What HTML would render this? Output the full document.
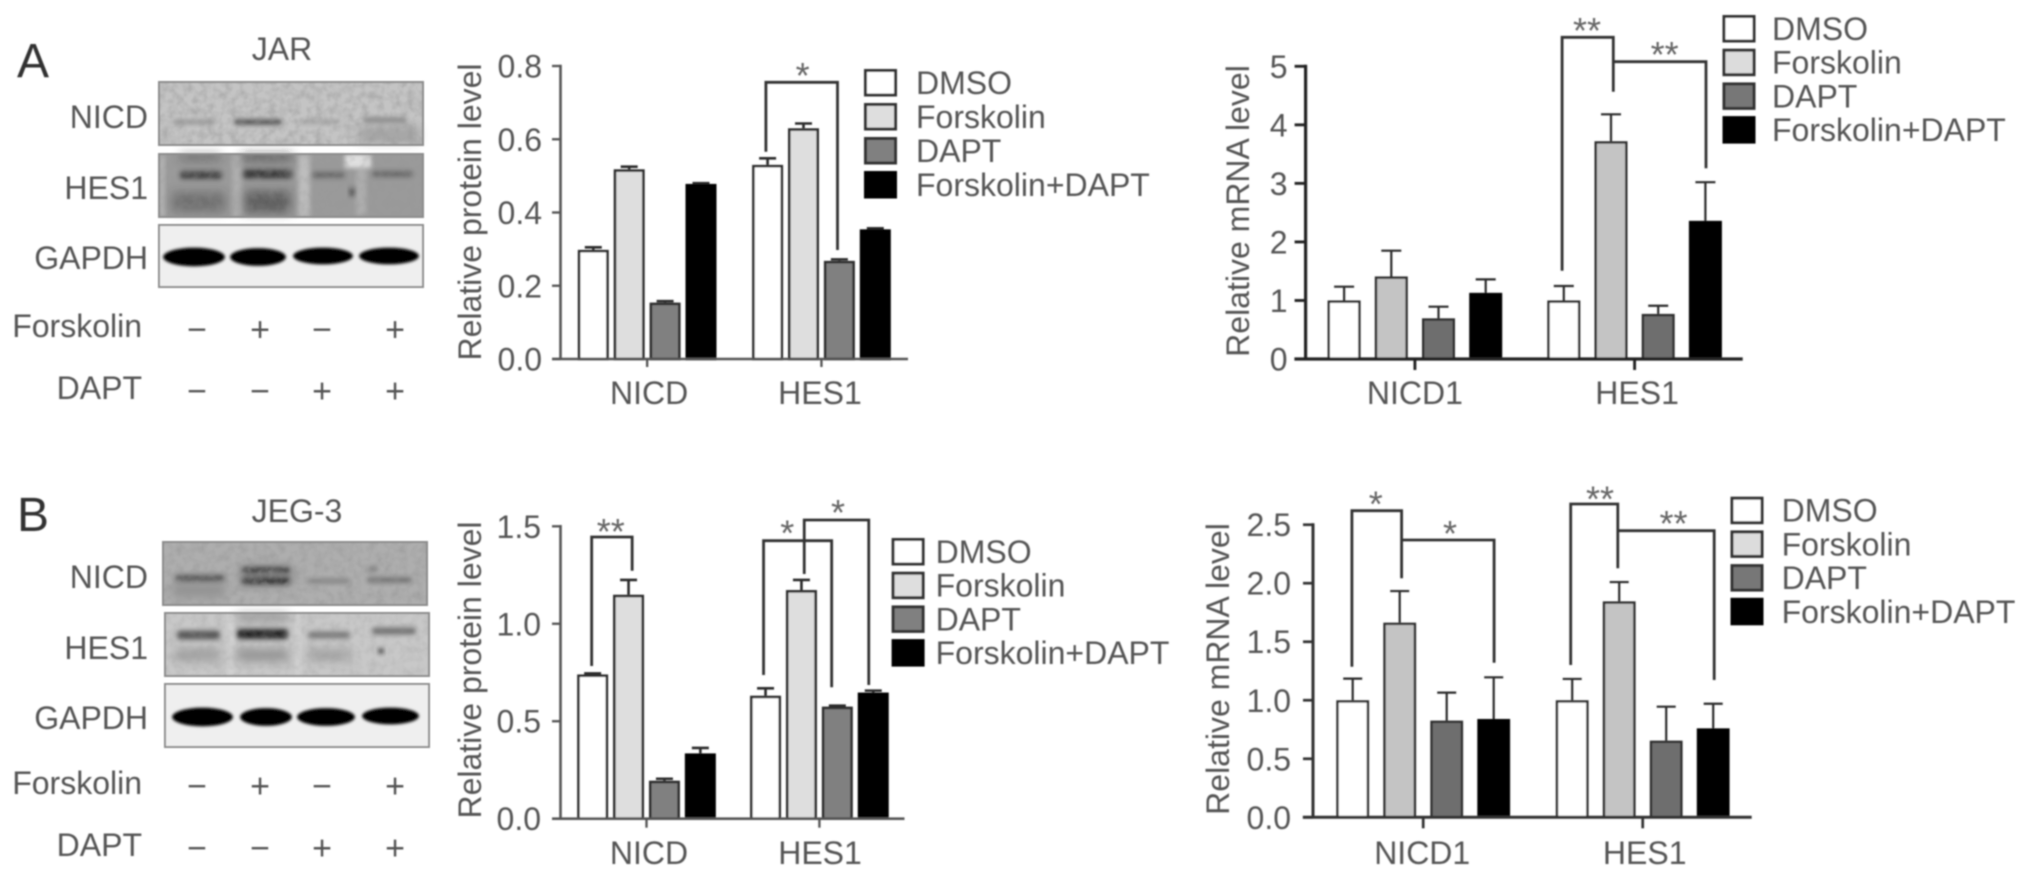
<!DOCTYPE html>
<html lang="en">
<head>
<meta charset="utf-8">
<title>NICD and HES1 protein and mRNA levels in JAR and JEG-3 cells</title>
<style>
html,body{margin:0;padding:0;background:#fff;}
body{width:2032px;height:877px;overflow:hidden;}
svg{display:block;}
text{font-family:"Liberation Sans",sans-serif;fill:#555;}
</style>
</head>
<body>
<svg id="figure" xmlns="http://www.w3.org/2000/svg" width="2032" height="877" viewBox="0 0 2032 877">
  <defs>
    <filter id="soft" x="0" y="0" width="100%" height="100%"><feGaussianBlur stdDeviation="0.8"/></filter>
    <filter id="band-blur" x="-30%" y="-100%" width="160%" height="300%"><feGaussianBlur stdDeviation="2.4"/></filter>
    <filter id="solid-blur" x="-10%" y="-50%" width="120%" height="200%"><feGaussianBlur stdDeviation="1.2"/></filter>
    <filter id="smear-blur" x="-40%" y="-100%" width="180%" height="300%"><feGaussianBlur stdDeviation="5"/></filter>
    <filter id="noise" x="0" y="0" width="100%" height="100%">
      <feTurbulence type="fractalNoise" baseFrequency="0.13" numOctaves="3" seed="4"/>
      <feColorMatrix type="matrix" values="0 0 0 0 0.3  0 0 0 0 0.3  0 0 0 0 0.3  1.3 0 0 0 -0.48"/>
    </filter>
  </defs>
  <rect x="0" y="0" width="2032" height="877" fill="#fff"/>
  <g id="root" filter="url(#soft)"></g>
</svg>
<script>
// ---- chart data ----
const seriesNames = ['DMSO', 'Forskolin', 'DAPT', 'Forskolin+DAPT'];

const jarProteinCategories = ['NICD', 'HES1'];
const jarProteinMeans = [[0.298, 0.518, 0.154, 0.478], [0.53, 0.63, 0.268, 0.354]];
const jarProteinUpper = [[0.305, 0.525, 0.158, 0.48], [0.548, 0.643, 0.272, 0.357]];
const jarProteinTicks = ['0.0', '0.2', '0.4', '0.6', '0.8'];

const jarMrnaCategories = ['NICD1', 'HES1'];
const jarMrnaMeans = [[1.0, 1.41, 0.695, 1.13], [1.0, 3.72, 0.77, 2.36]];
const jarMrnaUpper = [[1.235, 1.85, 0.894, 1.36], [1.247, 4.18, 0.91, 3.02]];
const jarMrnaTicks = ['0', '1', '2', '3', '4', '5'];

const jegProteinCategories = ['NICD', 'HES1'];
const jegProteinMeans = [[0.74, 1.149, 0.195, 0.335], [0.631, 1.173, 0.575, 0.647]];
const jegProteinUpper = [[0.745, 1.225, 0.205, 0.363], [0.669, 1.225, 0.58, 0.657]];
const jegProteinTicks = ['0.0', '0.5', '1.0', '1.5'];

const jegMrnaCategories = ['NICD1', 'HES1'];
const jegMrnaMeans = [[1.0, 1.663, 0.826, 0.84], [1.0, 1.845, 0.655, 0.76]];
const jegMrnaUpper = [[1.185, 1.933, 1.065, 1.196], [1.182, 2.01, 0.945, 0.97]];
const jegMrnaTicks = ['0.0', '0.5', '1.0', '1.5', '2.0', '2.5'];

const forskolinSigns = ['−', '+', '−', '+'];
const daptSigns = ['−', '−', '+', '+'];

// ---- layout and styling, kept apart from the data ----
const proteinFills = ['#ffffff', '#dedede', '#808080', '#000000'];
const mrnaFills = ['#ffffff', '#c4c4c4', '#6e6e6e', '#000000'];
const mrnaLegendFills = ['#ffffff', '#dcdcdc', '#777777', '#000000'];

const panels = [
  {
    id: 'jar-protein', title: 'Relative protein level',
    categories: jarProteinCategories, means: jarProteinMeans, upper: jarProteinUpper, ticks: jarProteinTicks,
    axisX: 560.5, top: 66, base: 359, max: 0.8, xStart: 552, xEnd: 908, tickOut: 8.5, xTick: 8, axisColor: '#555', axisW: 2.6,
    group0: 647.15, groupStep: 174.3, barStep: 35.9, barW: 31, barSW: 2.6, capHalf: 8.5, errW: 2.6,
    fills: proteinFills, legendFills: proteinFills,
    labelRight: 542, titleX: 481, titleY: 212, xLabelY: 404, xLabelDx: [2, -1.5],
    legendX: 864, legendY: 69, legendLabelX: 916, legendStep: 34,
    brackets: [
      { group: 1, from: 0, to: 2, dxFrom: -1.7, dxTo: -1.9, top: 82.3, fromEnd: 151.7, toEnd: 250, stars: '*', starX: 802.6, starY: 68 }
    ]
  },
  {
    id: 'jar-mrna', title: 'Relative mRNA level',
    categories: jarMrnaCategories, means: jarMrnaMeans, upper: jarMrnaUpper, ticks: jarMrnaTicks,
    axisX: 1305.6, top: 66.3, base: 359, max: 5, xStart: 1294.4, xEnd: 1742.7, tickOut: 11, xTick: 11, axisColor: '#222', axisW: 3.2,
    group0: 1414.9, groupStep: 219.7, barStep: 47.2, barW: 33, barSW: 2.4, capHalf: 10, errW: 2.2,
    fills: mrnaFills, legendFills: mrnaLegendFills,
    labelRight: 1287.5, titleX: 1249, titleY: 211, xLabelY: 404, xLabelDx: [0, 2.5],
    legendX: 1722.5, legendY: 15, legendLabelX: 1772, legendStep: 33.7,
    brackets: [
      { group: 1, from: 0, to: 1, dxFrom: -1.7, dxTo: 2.3, top: 37.3, fromEnd: 270.7, toEnd: 91.7, stars: '**', starX: 1587, starY: 23 },
      { group: 1, from: 1, to: 3, dxFrom: 2.3, dxTo: 0.6, top: 61.7, fromEnd: 61.7, toEnd: 168.3, stars: '**', starX: 1664.7, starY: 47 }
    ]
  },
  {
    id: 'jeg-protein', title: 'Relative protein level',
    categories: jegProteinCategories, means: jegProteinMeans, upper: jegProteinUpper, ticks: jegProteinTicks,
    axisX: 560.5, top: 526.3, base: 818.7, max: 1.5, xStart: 552, xEnd: 904.5, tickOut: 8.5, xTick: 9, axisColor: '#555', axisW: 2.6,
    group0: 646.5, groupStep: 172.9, barStep: 35.9, barW: 31, barSW: 2.6, capHalf: 8.5, errW: 2.6,
    fills: proteinFills, legendFills: proteinFills,
    labelRight: 541, titleX: 481, titleY: 670, xLabelY: 864, xLabelDx: [2.5, 0.6],
    legendX: 891.6, legendY: 538, legendLabelX: 935.6, legendStep: 33.7,
    brackets: [
      { group: 0, from: 0, to: 1, dxFrom: -1, dxTo: 3.6, top: 537, fromEnd: 666, toEnd: 570.7, stars: '**', starX: 610.8, starY: 524 },
      { group: 1, from: 0, to: 2, dxFrom: -2, dxTo: -5.7, top: 540.7, fromEnd: 675, toEnd: 687.3, stars: '*', starX: 787.3, starY: 525.7 },
      { group: 1, from: 1, to: 3, dxFrom: 2.8, dxTo: -4.5, top: 520, fromEnd: 574, toEnd: 685, stars: '*', starX: 838, starY: 505 }
    ]
  },
  {
    id: 'jeg-mrna', title: 'Relative mRNA level',
    categories: jegMrnaCategories, means: jegMrnaMeans, upper: jegMrnaUpper, ticks: jegMrnaTicks,
    axisX: 1313, top: 524.7, base: 817.3, max: 2.5, xStart: 1302.8, xEnd: 1751.7, tickOut: 10, xTick: 11, axisColor: '#333', axisW: 3,
    group0: 1423.2, groupStep: 219.5, barStep: 47, barW: 32.8, barSW: 2.4, capHalf: 9.5, errW: 2.2,
    fills: mrnaFills, legendFills: mrnaLegendFills,
    labelRight: 1291, titleX: 1229, titleY: 669, xLabelY: 864, xLabelDx: [-1, 2],
    legendX: 1730.5, legendY: 496.7, legendLabelX: 1781.6, legendStep: 33.7,
    brackets: [
      { group: 0, from: 0, to: 1, dxFrom: -0.8, dxTo: 1.9, top: 510.7, fromEnd: 666.7, toEnd: 578.3, stars: '*', starX: 1375.7, starY: 496.7 },
      { group: 0, from: 1, to: 3, dxFrom: 1.9, dxTo: 0.4, top: 540, fromEnd: 540, toEnd: 662.7, stars: '*', starX: 1450, starY: 526 },
      { group: 1, from: 0, to: 1, dxFrom: -1.5, dxTo: -1.4, top: 504, fromEnd: 665, toEnd: 568.3, stars: '**', starX: 1600, starY: 491.7 },
      { group: 1, from: 1, to: 3, dxFrom: -1.4, dxTo: 1, top: 530.7, fromEnd: 530.7, toEnd: 680, stars: '**', starX: 1673.5, starY: 516 }
    ]
  }
];

const blotSections = [
  {
    id: 'jar', title: 'JAR', titleX: 282, titleY: 60, letter: 'A', letterX: 17, letterY: 77,
    forskolinY: 337, daptY: 399, forskolinSignY: 329.3, daptSignY: 391, signX: [197, 260, 322, 395],
    blots: [
      { name: 'NICD', x: 159, y: 82, w: 264, h: 63, fill: '#c4c4c4', noise: 0.8, labelY: 128,
        bands: [[172, 215, 122, 4, 0.3], [234, 282, 122, 5, 0.75], [300, 340, 122, 4, 0.2], [363, 407, 120, 5, 0.35]], smears: [[359, 420, 135, 16, 0.2]], lights: [] },
      { name: 'HES1', x: 159, y: 154, w: 264, h: 63, fill: '#9a9a9a', noise: 0.45, labelY: 199,
        bands: [[180, 222, 175, 8, 0.7], [243, 292, 174, 9, 0.75], [312, 345, 175, 6, 0.4], [372, 413, 174, 6, 0.4], [349, 355, 192, 9, 0.55]],
        smears: [[172, 225, 202, 20, 0.35], [245, 290, 202, 22, 0.5], [180, 220, 157, 8, 0.35], [242, 292, 157, 8, 0.5]],
        lights: [[232, 154, 10, 63, 0.2], [298, 154, 12, 63, 0.35], [345, 154, 26, 14, 0.7], [356, 170, 10, 45, 0.2], [159, 154, 6, 63, 0.25]] },
      { name: 'GAPDH', x: 159, y: 225, w: 264, h: 62, fill: '#efefef', noise: 0, labelY: 269,
        bands: [[163, 225, 257, 14, 1], [230, 286, 257, 13, 1], [293, 353, 256, 12, 1], [359, 419, 256, 12, 1]], smears: [], lights: [] }
    ]
  },
  {
    id: 'jeg3', title: 'JEG-3', titleX: 297, titleY: 522, letter: 'B', letterX: 17, letterY: 531,
    forskolinY: 794, daptY: 856, forskolinSignY: 786, daptSignY: 848, signX: [197, 260, 322, 395],
    blots: [
      { name: 'NICD', x: 163, y: 542, w: 264, h: 63, fill: '#aeaeae', noise: 0.8, labelY: 588,
        bands: [[175, 225, 578, 7, 0.55], [242, 290, 581, 6, 0.8], [242, 290, 570, 5, 0.75], [307, 350, 581, 4, 0.35], [367, 412, 580, 5, 0.45], [368, 378, 569, 6, 0.3]],
        smears: [[240, 292, 576, 18, 0.3], [172, 225, 590, 14, 0.2]], lights: [] },
      { name: 'HES1', x: 165, y: 613, w: 264, h: 63, fill: '#c8c8c8', noise: 0.4, labelY: 659,
        bands: [[177, 220, 635, 9, 0.65], [237, 288, 634, 10, 0.95], [308, 350, 635, 7, 0.45], [372, 416, 631, 7, 0.5], [378, 384, 651, 6, 0.8]],
        smears: [[175, 220, 655, 12, 0.25], [237, 288, 655, 12, 0.32], [308, 350, 655, 12, 0.22], [237, 288, 617, 8, 0.3]],
        lights: [[228, 613, 6, 63, 0.2], [296, 613, 5, 63, 0.2]] },
      { name: 'GAPDH', x: 165, y: 684, w: 264, h: 63, fill: '#efefef', noise: 0, labelY: 729,
        bands: [[172, 233, 717, 14, 1], [240, 292, 717, 13, 1], [297, 355, 717, 13, 1], [362, 419, 716, 12, 1]], smears: [], lights: [] }
    ]
  }
];

// ---- drawing ----
const SVGNS = 'http://www.w3.org/2000/svg';
const root = document.getElementById('root');

function make(parent, tag, attrs, text) {
  const node = document.createElementNS(SVGNS, tag);
  Object.keys(attrs).forEach(function (k) { node.setAttribute(k, attrs[k]); });
  if (text !== undefined) node.textContent = text;
  parent.appendChild(node);
  return node;
}

function yScale(p, value) {
  return p.base - (value / p.max) * (p.base - p.top);
}

function groupCenter(p, groupIndex) {
  return p.group0 + groupIndex * p.groupStep;
}

function barCenter(p, groupIndex, seriesIndex) {
  return groupCenter(p, groupIndex) + (seriesIndex - 1.5) * p.barStep;
}

function slug(s) {
  return s.toLowerCase().replace(/[^a-z0-9]+/g, '-');
}

function drawPanel(p) {
  const panel = make(root, 'g', {});
  
  

  // bars and error bars
  p.categories.forEach(function (cat, g) {
    p.means[g].forEach(function (value, s) {
      const cx = barCenter(p, g, s);
      const yv = yScale(p, value);
      const yu = yScale(p, p.upper[g][s]);

      const err = make(panel, 'path', {
        d: 'M' + cx + ' ' + yv + 'V' + yu + 'M' + (cx - p.capHalf) + ' ' + yu + 'H' + (cx + p.capHalf),
        fill: 'none', stroke: '#2a2a2a', 'stroke-width': p.errW
      });
      
      

      const bar = make(panel, 'rect', {
        x: cx - p.barW / 2 + p.barSW / 2,
        y: yv + p.barSW / 2,
        width: p.barW - p.barSW,
        height: Math.max(0, p.base - yv - p.barSW / 2),
        fill: p.fills[s],
        stroke: s === 3 ? '#000' : '#2f2f2f',
        'stroke-width': p.barSW
      });
      
      
    });
  });

  // y axis
  const yAxis = make(panel, 'line', { x1: p.axisX, x2: p.axisX, y1: p.top - p.axisW / 2, y2: p.base, stroke: p.axisColor, 'stroke-width': p.axisW });
  
  

  p.ticks.forEach(function (label) {
    const v = parseFloat(label);
    const ty = yScale(p, v);

    const tick = make(panel, 'line', { x1: p.axisX - p.tickOut, x2: p.axisX, y1: ty, y2: ty, stroke: p.axisColor, 'stroke-width': p.axisW * 0.9 });
    
    

    const tl = make(panel, 'text', { x: p.labelRight, y: ty + 11.5, 'text-anchor': 'end', 'font-size': 32 }, label);
    
    
  });

  const yTitle = make(panel, 'text', {
    x: 0, y: 0, 'text-anchor': 'middle', 'font-size': 32,
    transform: 'translate(' + p.titleX + ' ' + p.titleY + ') rotate(-90)'
  }, p.title);
  
  

  // x axis
  const xAxis = make(panel, 'line', { x1: p.xStart, x2: p.xEnd, y1: p.base, y2: p.base, stroke: p.axisColor, 'stroke-width': p.axisW });
  
  

  p.categories.forEach(function (cat, g) {
    const gx = groupCenter(p, g);

    const tick = make(panel, 'line', { x1: gx, x2: gx, y1: p.base, y2: p.base + p.xTick, stroke: p.axisColor, 'stroke-width': p.axisW * 0.9 });
    
    

    const lab = make(panel, 'text', { x: gx + p.xLabelDx[g], y: p.xLabelY, 'text-anchor': 'middle', 'font-size': 32 }, cat);
    
    
  });

  // significance brackets
  p.brackets.forEach(function (b) {
    const x1 = barCenter(p, b.group, b.from) + b.dxFrom;
    const x2 = barCenter(p, b.group, b.to) + b.dxTo;

    const path = make(panel, 'path', {
      d: 'M' + x1 + ' ' + b.fromEnd + 'V' + b.top + 'H' + x2 + 'V' + b.toEnd,
      fill: 'none', stroke: '#333', 'stroke-width': 2.8
    });
    
    

    const star = make(panel, 'text', { x: b.starX, y: b.starY + 20, 'text-anchor': 'middle', 'font-size': 36, style: 'fill:#666' }, b.stars);
    
    
  });

  // legend
  const legend = make(panel, 'g', {});
  
  

  seriesNames.forEach(function (name, s) {
    const ly = p.legendY + s * p.legendStep;

    const swatch = make(legend, 'rect', {
      x: p.legendX + 1.5, y: ly + 1.5, width: 30, height: 24.5,
      fill: p.legendFills[s], stroke: s === 3 ? '#000' : '#333', 'stroke-width': 3
    });
    
    

    const label = make(legend, 'text', { x: p.legendLabelX, y: ly + 25, 'font-size': 32 }, name);
    
    
  });
}

function drawBlot(section, blot, parent) {
  const g = make(parent, 'g', {});
  
  

  const bg = make(g, 'rect', { x: blot.x, y: blot.y, width: blot.w, height: blot.h, fill: blot.fill });
  
  

  blot.lights.forEach(function (l) {
    const light = make(g, 'rect', { x: l[0], y: l[1], width: l[2], height: l[3], fill: '#fff', opacity: l[4], filter: 'url(#band-blur)' });
    
    
  });

  blot.smears.forEach(function (m) {
    const smear = make(g, 'rect', { x: m[0], y: m[2] - m[3] / 2, width: m[1] - m[0], height: m[3], fill: '#222', opacity: m[4], filter: 'url(#smear-blur)' });
    
    
  });

  blot.bands.forEach(function (b) {
    const solid = b[4] === 1;
    const band = make(g, solid ? 'ellipse' : 'rect', solid ? {
      cx: (b[0] + b[1]) / 2, cy: b[2], rx: (b[1] - b[0]) / 2, ry: b[3] / 2 + 2.5,
      fill: '#050505', filter: 'url(#solid-blur)'
    } : {
      x: b[0], y: b[2] - b[3] / 2, width: b[1] - b[0], height: b[3], rx: 3,
      fill: '#1a1a1a', opacity: b[4], filter: 'url(#band-blur)'
    });
    
    
  });

  if (blot.noise > 0) {
    const noise = make(g, 'rect', { x: blot.x, y: blot.y, width: blot.w, height: blot.h, fill: '#000', opacity: blot.noise, filter: 'url(#noise)' });
    
    
  }

  const border = make(g, 'rect', { x: blot.x, y: blot.y, width: blot.w, height: blot.h, fill: 'none', stroke: '#8c8c8c', 'stroke-width': 2 });
  
  

  const label = make(g, 'text', { x: 148, y: blot.labelY, 'text-anchor': 'end', 'font-size': 32 }, blot.name);
  
  
}

function drawSection(section) {
  const g = make(root, 'g', {});
  
  

  const letter = make(g, 'text', { x: section.letterX, y: section.letterY, 'font-size': 48, style: 'fill:#333' }, section.letter);
  
  

  const title = make(g, 'text', { x: section.titleX, y: section.titleY, 'text-anchor': 'middle', 'font-size': 32 }, section.title);
  
  

  section.blots.forEach(function (blot) { drawBlot(section, blot, g); });

  const fLabel = make(g, 'text', { x: 142, y: section.forskolinY, 'text-anchor': 'end', 'font-size': 32 }, 'Forskolin');
  
  

  const dLabel = make(g, 'text', { x: 142, y: section.daptY, 'text-anchor': 'end', 'font-size': 32 }, 'DAPT');
  
  

  section.signX.forEach(function (sx, i) {
    const fs = make(g, 'text', { x: sx, y: section.forskolinSignY + 11.5, 'text-anchor': 'middle', 'font-size': 34 }, forskolinSigns[i]);
    
    

    const ds = make(g, 'text', { x: sx, y: section.daptSignY + 11.5, 'text-anchor': 'middle', 'font-size': 34 }, daptSigns[i]);
    
    
  });
}

blotSections.forEach(drawSection);
panels.forEach(drawPanel);
</script>
</body>
</html>
